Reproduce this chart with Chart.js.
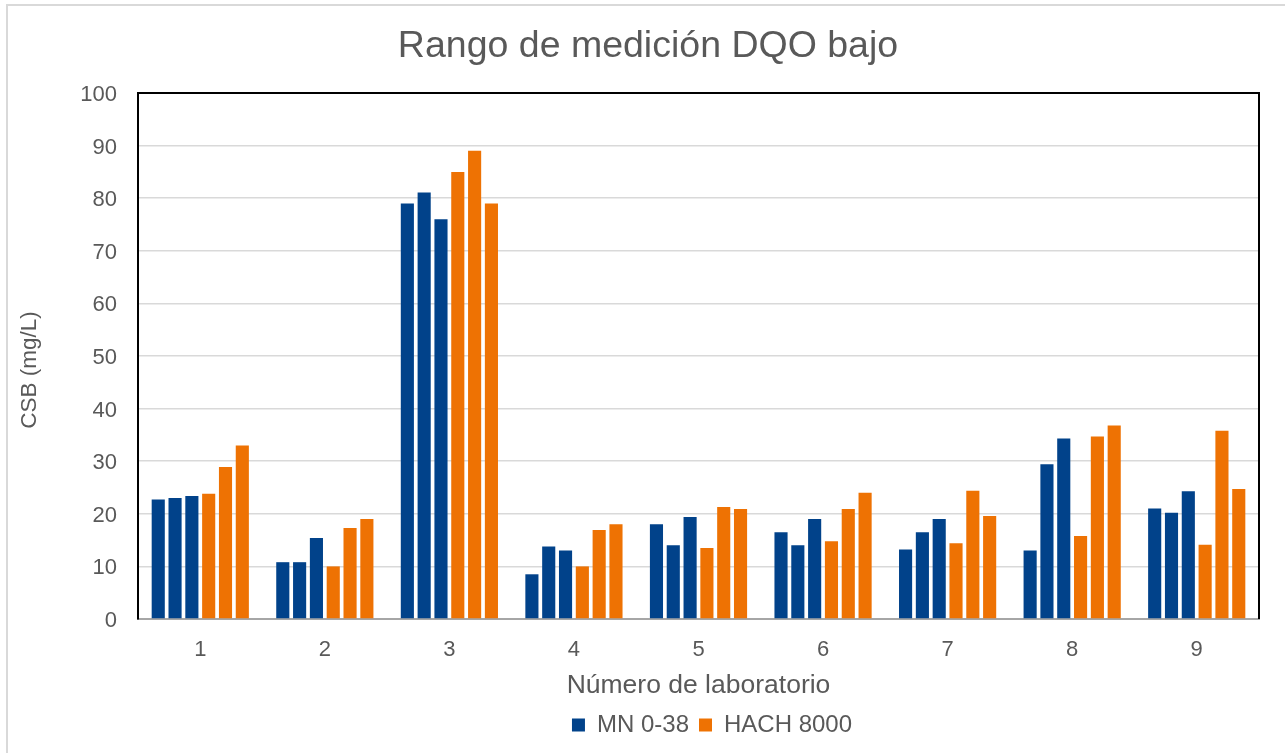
<!DOCTYPE html>
<html>
<head>
<meta charset="utf-8">
<script src="https://cdn.jsdelivr.net/npm/chart.js@4/dist/chart.umd.min.js"></script>
<style>
  html, body { margin: 0; padding: 0; background: #ffffff; }
  #wrap { width: 1285px; height: 753px; }
</style>
</head>
<body>
<div id="wrap"><canvas id="c" width="1285" height="753"></canvas></div>
<script>
// Categories (laboratory numbers)
const labs = ['1', '2', '3', '4', '5', '6', '7', '8', '9'];

// MN 0-38 (three measurements per lab)
const mnA = [22.7, 10.8, 79.0, 8.5, 18.0, 16.5, 13.2, 13.0, 21.0];
const mnB = [23.0, 10.8, 81.1, 13.8, 14.0, 14.0, 16.5, 29.4, 20.2];
const mnC = [23.4, 15.4, 76.0, 13.0, 19.4, 19.0, 19.0, 34.3, 24.3];

// HACH 8000 (three measurements per lab)
const hachA = [23.8, 10.0, 85.0, 10.0, 13.5, 14.8, 14.4, 15.8, 14.1];
const hachB = [28.9, 17.3, 89.0, 16.9, 21.3, 20.9, 24.4, 34.7, 35.8];
const hachC = [33.0, 19.0, 79.0, 18.0, 20.9, 24.0, 19.6, 36.8, 24.7];

const seriesNames = ['MN 0-38', 'HACH 8000'];
const yTicks = { min: 0, max: 100, step: 10 };
const yTitleText = 'CSB (mg/L)';

const BLUE = '#01428A';
const ORANGE = '#EE7203';
const TEXT = '#595959';
const FONT = "'Liberation Sans', Arial, sans-serif";

function ds(label, data, color) {
  return {
    label: label,
    data: data,
    backgroundColor: color,
    borderColor: color,
    borderWidth: 0,
    categoryPercentage: 0.81,
    barPercentage: 0.78,
    yAxisID: 'y'
  };
}

const frame = {
  id: 'frame',
  afterLayout(chart) {
    const lg = chart.legend;
    if (lg) {
      const w = lg.right - lg.left;
      const center = 712;
      lg.left = center - w / 2;
      lg.right = center + w / 2;
    }
  },
  beforeDraw(chart) {
    const ctx = chart.ctx;
    ctx.save();
    ctx.strokeStyle = '#d9d9d9';
    ctx.lineWidth = 2;
    ctx.strokeRect(7, 5, 1300, 780);
    ctx.restore();
  },
  afterDraw(chart) {
    const a = chart.chartArea;
    const ctx = chart.ctx;
    ctx.save();
    ctx.strokeStyle = '#000000';
    ctx.lineWidth = 2;
    ctx.beginPath();
    ctx.moveTo(a.left, a.bottom);
    ctx.lineTo(a.left, a.top);
    ctx.lineTo(a.right, a.top);
    ctx.lineTo(a.right, a.bottom);
    ctx.stroke();
    // y axis title
    ctx.translate(30, (a.top + a.bottom) / 2 + 14);
    ctx.rotate(-Math.PI / 2);
    ctx.fillStyle = TEXT;
    ctx.font = "22.5px " + FONT;
    ctx.textAlign = 'center';
    ctx.textBaseline = 'middle';
    ctx.fillText(yTitleText, 0, 0);
    ctx.restore();
  }
};

new Chart(document.getElementById('c'), {
  type: 'bar',
  data: {
    labels: labs,
    datasets: [
      ds(seriesNames[0], mnA, BLUE),
      ds(seriesNames[0], mnB, BLUE),
      ds(seriesNames[0], mnC, BLUE),
      ds(seriesNames[1], hachA, ORANGE),
      ds(seriesNames[1], hachB, ORANGE),
      ds(seriesNames[1], hachC, ORANGE)
    ]
  },
  options: {
    responsive: false,
    animation: false,
    layout: { padding: { left: 11, right: 0, top: 0, bottom: 6 } },
    plugins: {
      tooltip: { enabled: false },
      title: {
        display: true,
        text: 'Rango de medición DQO bajo',
        color: TEXT,
        font: { family: FONT, size: 37.5, weight: 'normal' },
        padding: { top: 24.5, bottom: 23.5 }
      },
      legend: {
        display: true,
        position: 'bottom',
        labels: {
          color: TEXT,
          font: { family: FONT, size: 24 },
          boxWidth: 13,
          boxHeight: 13,
          padding: 10,
          filter: (item) => item.datasetIndex === 0 || item.datasetIndex === 3
        }
      }
    },
    scales: {
      x: {
        grid: { display: false, drawTicks: false },
        border: { display: true, color: '#a6a6a6', width: 2 },
        ticks: { color: TEXT, font: { family: FONT, size: 22 }, padding: 17.8, maxRotation: 0 },
        title: {
          display: true,
          text: 'Número de laboratorio',
          color: TEXT,
          font: { family: FONT, size: 26.5 },
          padding: { top: 0, bottom: 1.1 }
        },
        afterFit(scale) { scale.height = 84; }
      },
      y: {
        min: yTicks.min,
        max: yTicks.max,
        grid: { color: '#d9d9d9', lineWidth: 1.5, drawTicks: false },
        border: { display: true, color: '#000000', width: 2 },
        ticks: { stepSize: yTicks.step, color: TEXT, font: { family: FONT, size: 22 }, padding: 21, labelOffset: 2 },
        title: { display: false },
        afterFit(scale) { scale.width = 127; }
      },
      yRight: {
        type: 'linear',
        position: 'right',
        display: true,
        grid: { display: false, drawTicks: false },
        border: { display: false },
        ticks: { display: false },
        afterFit(scale) { scale.width = 26; }
      }
    }
  },
  plugins: [frame]
});
</script>
</body>
</html>
